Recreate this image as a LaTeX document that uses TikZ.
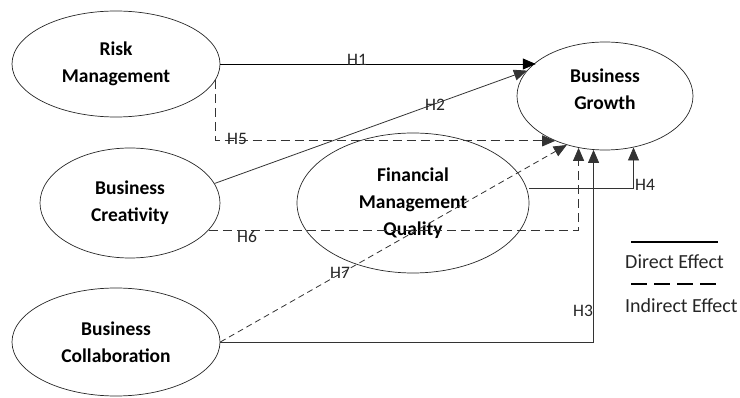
\documentclass[tikz,border=0pt]{standalone}
\usepackage{fontspec}
\setmainfont{Carlito}
\usetikzlibrary{arrows.meta,shapes.geometric}
\begin{document}
\begin{tikzpicture}[x=1pt,y=-1pt,
  construct/.style={draw=black!85, line width=0.7pt, ellipse, inner sep=0pt,
    font=\fontsize{19.5}{27}\selectfont\bfseries, align=center},
  conn/.style={draw=black!80, line width=0.8pt, -{Triangle[length=13pt,width=11pt]}},
  dashconn/.style={conn, dash pattern=on 9pt off 5pt},
  hlab/.style={font=\fontsize{17.5}{20}\selectfont, text=black!85, inner sep=0pt},
  legtext/.style={font=\fontsize{20}{22}\selectfont, text=black!85, inner sep=0pt, anchor=west}
]
\useasboundingbox (0,0) rectangle (740,398);
\node[construct, minimum width=208pt, minimum height=106pt] (rm) at (116,64) {Risk\\Management};
\node[construct, minimum width=176pt, minimum height=108pt, text depth=13pt] (bg) at (605,96) {Business\\Growth};
\node[construct, minimum width=180pt, minimum height=110pt] (bc) at (130,203) {Business\\Creativity};
\node[construct, minimum width=208pt, minimum height=108pt] (bcol) at (116,342) {Business\\Collaboration};
\node[construct, minimum width=232pt, minimum height=140pt] (fmq) at (413,203) {Financial\\Management\\Quality};

% H1
\draw[conn, draw=black] (rm.east) -- (rm.east -| bg.154);
% H2
\draw[conn] (bc.13) -- (bg.162);
% H5
\draw[dashconn] (rm.-9) |- (bg.222);
% H6
\draw[dashconn] (bc.-19) -| (bg.243);
% H7
\draw[dashconn, dash pattern=on 6pt off 4pt] (bcol.east) -- (bg.232);
% H3
\draw[conn] (bcol.east) -| (bg.258);
% H4
\draw[conn] (fmq.east |- 0,188) -| (bg.-61);

\node[hlab] (l1) at (357,60) {H1};
\node[hlab] (l2) at (435,105) {H2};
\node[hlab] (l5) at (237,139) {H5};
\node[hlab] (l6) at (247,237) {H6};
\node[hlab] (l7) at (340,273) {H7};
\node[hlab] (l3) at (583,311) {H3};
\node[hlab] (l4) at (645,185) {H4};

% legend
\coordinate (d1) at (631,242);
\coordinate (d2) at (718,242);
\coordinate (i1) at (631,284);
\coordinate (i2) at (718,284);
\draw[black, line width=1.8pt] (d1) -- (d2);
\draw[black, line width=1.8pt, dash pattern=on 16pt off 7pt] (i1) -- (i2);
\node[legtext] (dtext) at (625,262) {Direct Effect};
\node[legtext] (itext) at (625,306) {Indirect Effect};
\end{tikzpicture}
\end{document}
